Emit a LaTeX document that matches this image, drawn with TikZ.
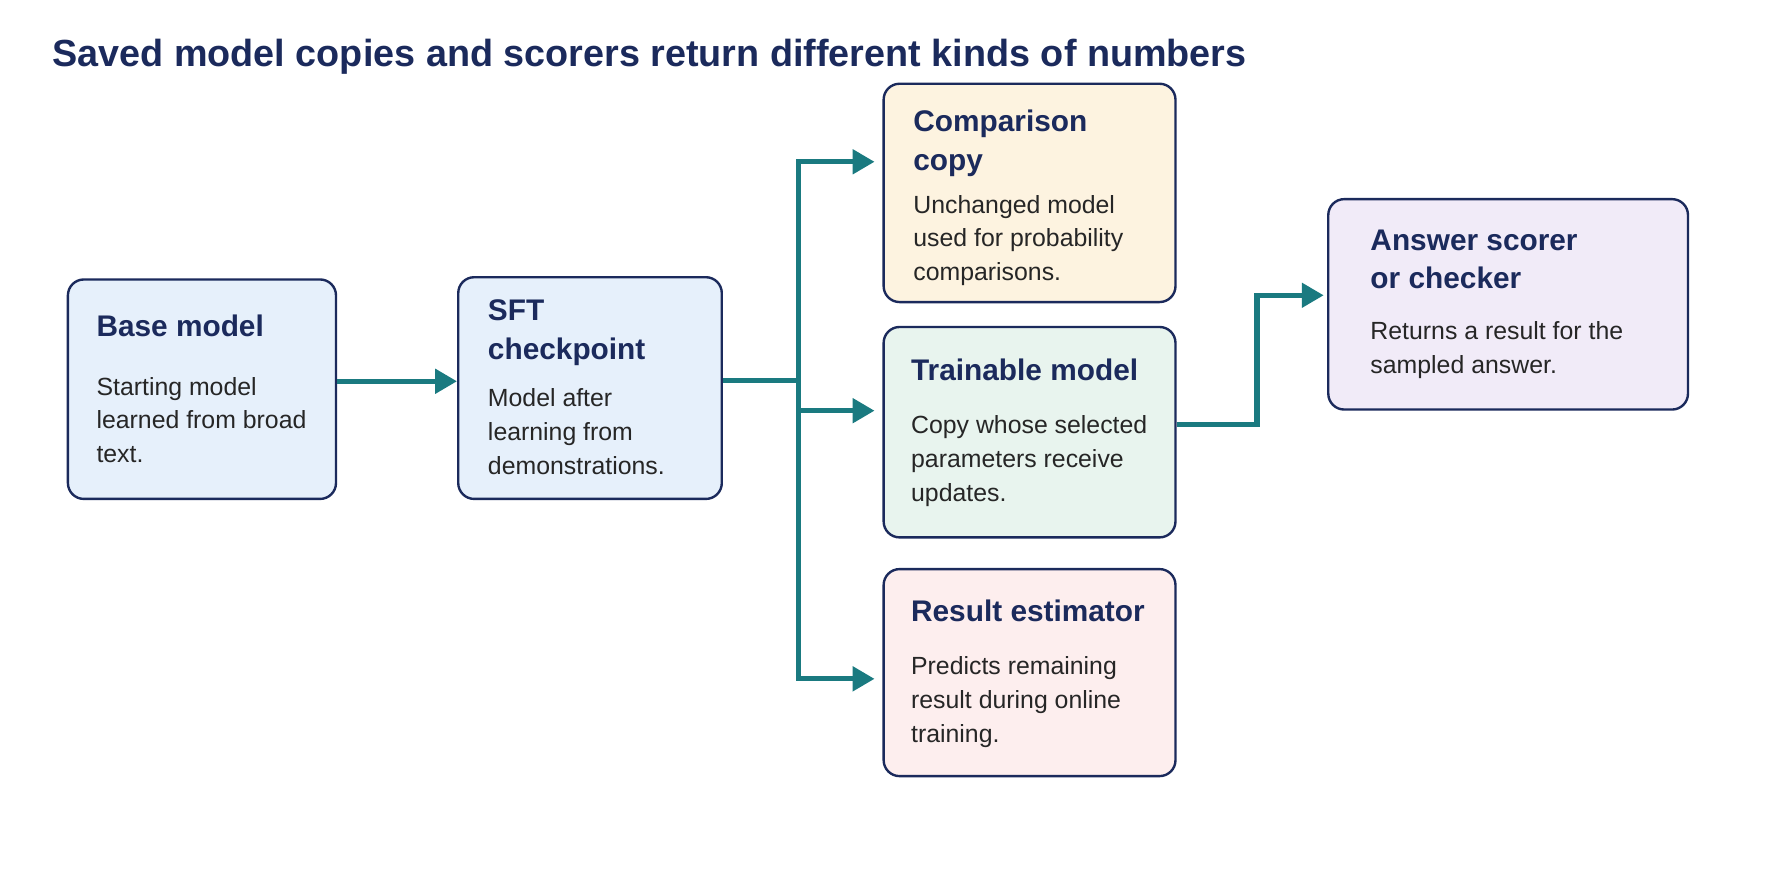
\documentclass[tikz,border=0pt]{standalone}
\usepackage{fontspec}
\setmainfont{Liberation Sans}
\usetikzlibrary{arrows.meta,positioning}
\definecolor{navy}{HTML}{1B2A5C}
\definecolor{teal}{HTML}{1A7A80}
\definecolor{bluefill}{HTML}{E6F0FB}
\definecolor{sandfill}{HTML}{FDF3E0}
\definecolor{mintfill}{HTML}{E8F4EE}
\definecolor{rosefill}{HTML}{FDEEEE}
\definecolor{lilacfill}{HTML}{F1EBF8}

\begin{document}
\begin{tikzpicture}[
                    x=0.02cm, y=-0.02cm,
                    card/.style={
                        rectangle,
                        rounded corners=8pt,
                        draw=navy,
                        line width=1.2pt
                    },
                    head/.style={
                        anchor=north west,
                        inner sep=0pt,
                        align=left,
                        text=navy,
                        font=\fontsize{15}{19.3}\selectfont\bfseries
                    },
                    body/.style={
                        anchor=north west,
                        inner sep=0pt,
                        align=left,
                        text=black!85,
                        font=\fontsize{12.5}{17}\selectfont
                    },
                    link/.style={
                        draw=teal,
                        line width=2.6pt,
                        -{Triangle[length=11pt,width=12pt]}
                    },
                    node distance=0.3cm
                ]
                \useasboundingbox (0,0) rectangle (1568,784);
                \node (title) [anchor=west, text=navy, inner sep=0pt,
                    font=\fontsize{19}{23}\selectfont\bfseries] at (46,50)
                    {Saved model copies and scorers return different kinds of numbers};

                % cards
                \node (base) [card, fill=bluefill, minimum width=4.74cm, minimum height=3.88cm] at (178.5,344) {};
                \node (sft) [card, fill=bluefill, minimum width=4.66cm, minimum height=3.92cm] at (521.5,343) {};
                \node (cmp) [card, fill=sandfill, minimum width=5.16cm, minimum height=3.86cm] at (910,170.5) {};
                \node (train) [card, fill=mintfill, minimum width=5.16cm, minimum height=3.72cm] at (910,382) {};
                \node (est) [card, fill=rosefill, minimum width=5.16cm, minimum height=3.66cm] at (910,594.5) {};
                \node (score) [card, fill=lilacfill, minimum width=6.36cm, minimum height=3.72cm] at (1333,269) {};

                % texts
                \node (basehead) [head, below right=0.64cm and 0.52cm of base.north west] {Base model};
                \node (basebody) [body, below=0.7cm of basehead.south west, anchor=north west] {Starting model\\learned from broad\\text.};
                \node (sfthead) [head, below right=0.42cm and 0.54cm of sft.north west] {SFT\\checkpoint};
                \node (sftbody) [body, below=0.4cm of sfthead.south west, anchor=north west] {Model after\\learning from\\demonstrations.};
                \node (cmphead) [head, below right=0.48cm and 0.54cm of cmp.north west] {Comparison\\copy};
                \node (cmpbody) [body, below=0.32cm of cmphead.south west, anchor=north west] {Unchanged model\\used for probability\\comparisons.};
                \node (trainhead) [head, below right=0.58cm and 0.5cm of train.north west] {Trainable model};
                \node (trainbody) [body, below=0.6cm of trainhead.south west, anchor=north west] {Copy whose selected\\parameters receive\\updates.};
                \node (esthead) [head, below right=0.56cm and 0.5cm of est.north west] {Result estimator};
                \node (estbody) [body, below=0.6cm of esthead.south west, anchor=north west] {Predicts remaining\\result during online\\training.};
                \node (scorehead) [head, below right=0.56cm and 0.76cm of score.north west] {Answer scorer\\or checker};
                \node (scorebody) [body, below=0.56cm of scorehead.south west, anchor=north west] {Returns a result for the\\sampled answer.};

                % connectors
                \coordinate (fork) at (706,336);
                \draw [link] (base.east |- 0,337) -- (sft.west |- 0,337);
                \draw [draw=teal, line width=2.6pt] (sft.east |- fork) -- (fork);
                \draw [link] (fork) |- (773,143);
                \draw [link] (fork) |- (773,363);
                \draw [link] (fork) |- (773,600);
                \draw [link] (train.east |- 0,375) -| (1111,261) -- (1170,261);
            \end{tikzpicture}
\end{document}
